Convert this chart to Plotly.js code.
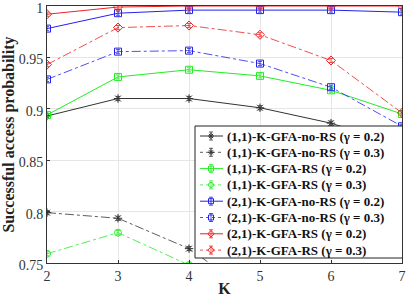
<!DOCTYPE html>
<html><head><meta charset="utf-8">
<script src="https://cdn.plot.ly/plotly-3.0.1.min.js"></script>
<style>html,body{margin:0;padding:0;background:#fff}</style>
</head><body><div id="chart" style="width:407px;height:297px"></div>
<script>
const K = [2, 3, 4, 5, 6, 7];
const noRS11_g02 = [0.893, 0.910, 0.910, 0.901, 0.886, 0.864];
const noRS11_g03 = [0.799, 0.7935, 0.764, 0.715, 0.69, 0.67];
const RS11_g02 = [0.894, 0.931, 0.938, 0.932, 0.918, 0.895];
const RS11_g03 = [0.759, 0.7795, 0.748, 0.72, 0.70, 0.68];
const noRS21_g02 = [0.978, 0.993, 0.996, 0.996, 0.996, 0.994];
const noRS21_g03 = [0.9286, 0.9556, 0.9566, 0.944, 0.921, 0.883];
const RS21_g02 = [0.992, 0.999, 1.0, 1.0, 1.0, 1.0];
const RS21_g03 = [0.943, 0.979, 0.981, 0.972, 0.947, 0.896];
const yTicks = [0.75, 0.8, 0.85, 0.9, 0.95, 1];
const yTickText = ['0.75', '0.8', '0.85', '0.9', '0.95', '1'];
const names = [
  '(1,1)-K-GFA-no-RS (γ = 0.2)', '(1,1)-K-GFA-no-RS (γ = 0.3)',
  '(1,1)-K-GFA-RS (γ = 0.2)', '(1,1)-K-GFA-RS (γ = 0.3)',
  '(2,1)-K-GFA-no-RS (γ = 0.2)', '(2,1)-K-GFA-no-RS (γ = 0.3)',
  '(2,1)-K-GFA-RS (γ = 0.2)', '(2,1)-K-GFA-RS (γ = 0.3)'
];
const series = [noRS11_g02, noRS11_g03, RS11_g02, RS11_g03, noRS21_g02, noRS21_g03, RS21_g02, RS21_g03];
const colors = ['#333333', '#333333', '#22ee22', '#22ee22', '#2222ee', '#2222ee', '#ee2222', '#ee2222'];
const dashes = ['solid', 'dashdot', 'solid', 'dashdot', 'solid', 'dashdot', 'solid', 'dashdot'];
const symbols = ['asterisk-open', 'asterisk-open', 'square-open', 'circle-open', 'square-open', 'square-open', 'diamond-open', 'diamond-open'];

const W = 407, H = 297, ML = 47, MR = 5, MT = 6, MB = 34;
const PW = W - ML - MR, PH = H - MT - MB;
const px2x = p => (p - ML) / PW;
const py2y = p => (H - MB - p) / PH;

const traces = series.map((s, i) => ({
  x: K, y: s, name: names[i], type: 'scatter', mode: 'lines+markers', showlegend: false,
  line: {color: colors[i], width: i % 2 ? 0.8 : 1, dash: dashes[i]},
  marker: {symbol: symbols[i], size: 7, color: colors[i], line: {color: colors[i], width: 1}},
  error_y: {type: 'constant', value: 0.002, width: 2, thickness: 0.8, color: colors[i]}
}));

// custom legend drawn on an overlay axis pair (range 0..1 = plot area)
const box = {x0: px2x(195), x1: px2x(402.5), y0: py2y(258), y1: py2y(126)};
traces.push({
  x: [box.x0, box.x1, box.x1, box.x0, box.x0], y: [box.y0, box.y0, box.y1, box.y1, box.y0],
  xaxis: 'x2', yaxis: 'y2', mode: 'lines', fill: 'toself', fillcolor: '#ffffff',
  line: {color: '#222', width: 1}, showlegend: false, hoverinfo: 'skip'
});
const tf = 'Liberation Serif';
const annotations = [];
names.forEach((n, i) => {
  const yy = py2y(136 + i * 16.3);
  traces.push({
    x: [px2x(200), px2x(211), px2x(223)], y: [yy, yy, yy], xaxis: 'x2', yaxis: 'y2',
    mode: 'lines', line: {color: colors[i], width: i % 2 ? 0.8 : 1, dash: i % 2 ? 'dot' : 'solid'},
    showlegend: false, hoverinfo: 'skip'
  });
  traces.push({
    x: [px2x(211)], y: [yy], xaxis: 'x2', yaxis: 'y2', mode: 'markers',
    marker: {symbol: symbols[i], size: 5, color: colors[i], line: {color: colors[i], width: 1}},
    error_y: {type: 'constant', value: 4 / PH, width: 2, thickness: 0.8, color: colors[i]},
    showlegend: false, hoverinfo: 'skip'
  });
  annotations.push({
    xref: 'paper', yref: 'paper', x: px2x(225), y: yy, xanchor: 'left', yanchor: 'middle',
    text: '<b>' + n + '</b>', showarrow: false,
    font: {family: tf, size: 13, color: '#111'}
  });
});

const layout = {
  width: W, height: H,
  margin: {l: ML, r: MR, t: MT, b: MB},
  paper_bgcolor: '#fff', plot_bgcolor: '#fff',
  font: {family: tf, color: '#333'},
  showlegend: false,
  annotations: annotations,
  xaxis: {
    range: [2, 7], tickvals: K, ticktext: K.map(String),
    showgrid: true, gridcolor: '#e6e6e6', zeroline: false,
    showline: true, linecolor: '#333', linewidth: 1, mirror: true,
    ticks: 'inside', ticklen: 3, tickcolor: '#333',
    tickfont: {family: tf, size: 14, color: '#333'},
    title: {text: '<b>K</b>', standoff: 2, font: {family: tf, size: 16, color: '#222'}}
  },
  yaxis: {
    range: [0.75, 1], tickvals: yTicks, ticktext: yTickText,
    showgrid: true, gridcolor: '#e6e6e6', zeroline: false,
    showline: true, linecolor: '#333', linewidth: 1, mirror: true,
    ticks: 'inside', ticklen: 3, tickcolor: '#333',
    ticklabeloverflow: 'allow', ticklabelshift: 2,
    tickfont: {family: tf, size: 14, color: '#333'},
    title: {text: '<b>Successful access probability</b>', standoff: 2, font: {family: tf, size: 16, color: '#222'}}
  },
  xaxis2: {overlaying: 'x', range: [0, 1], visible: false, fixedrange: true},
  yaxis2: {overlaying: 'y', range: [0, 1], visible: false, fixedrange: true}
};
Plotly.newPlot('chart', traces, layout, {displayModeBar: false, staticPlot: true});
</script></body></html>
